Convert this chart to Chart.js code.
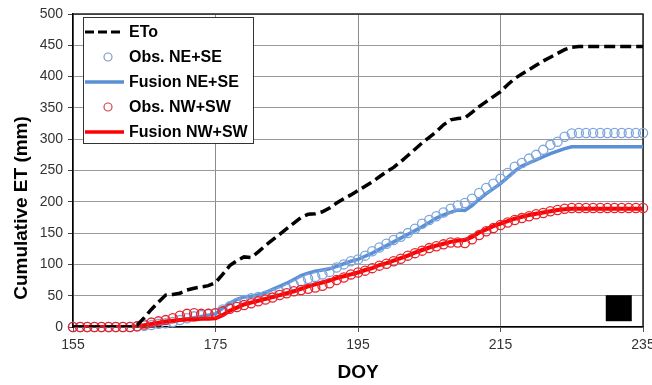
<!DOCTYPE html>
<html>
<head>
<meta charset="utf-8">
<script src="https://cdn.jsdelivr.net/npm/chart.js@4.4.1/dist/chart.umd.min.js"></script>
<style>
  html, body { margin: 0; padding: 0; background: #fff; }
  #wrap { width: 652px; height: 385px; }
</style>
</head>
<body>
<div id="wrap"><canvas id="etChart" width="652" height="385"></canvas></div>
<script>
// day of year, one entry per day
const days = [
  155,156,157,158,159,160,161,162,163,164,
  165,166,167,168,169,170,171,172,173,174,
  175,176,177,178,179,180,181,182,183,184,
  185,186,187,188,189,190,191,192,193,194,
  195,196,197,198,199,200,201,202,203,204,
  205,206,207,208,209,210,211,212,213,214,
  215,216,217,218,219,220,221,222,223,224,
  225,226,227,228,229,230,231,232,233,234,
  235
];

// cumulative reference ET (mm)
const eto = [
  0,0,0,0,0,0,0,0,0,3,
  15,28,40,51,52,54,59,62,64,66,
  71,84,98,106,112,111,120,130,139,148,
  157,166,175,180,181,184,190,198,205,211,
  218,225,232,240,248,255,264,274,284,294,
  303,312,323,331,333,334,343,352,360,368,
  376,387,397,404,411,418,425,431,437,443,
  447,448,448,448,448,448,448,448,448,448,
  448
];

const obsNE = [
  0,0,0,0,0,0,0,0,0,1,
  2,3,5,6,8,11,14,17,19,21,
  22,28,33,38,43,46,48,50,53,56,
  61,67,73,77,80,84,88,95,100,105,
  108,114,121,127,133,139,144,150,157,165,
  171,177,183,189,194,198,205,214,222,229,
  237,246,256,262,269,275,283,291,296,304,
  309,310,310,310,310,310,310,310,310,310,
  310
];

const fusNE = [
  0,0,0,0,0,0,0,0,0,1,
  2,3,5,7,9,11,13,15,17,19,
  21,30,38,44,48,49,51,55,60,65,
  70,76,82,86,89,91,93,97,101,105,
  108,113,118,124,130,136,142,148,154,160,
  167,174,179,183,187,186,194,204,213,221,
  229,239,249,257,262,267,272,277,281,285,
  288,288,288,288,288,288,288,288,288,288,
  288
];

const obsNW = [
  0,0,0,0,0,0,0,0,0,1,
  4,7,9,11,14,18,21,22,21,21,
  22,25,29,32,35,38,41,44,47,51,
  54,57,59,61,63,66,70,75,79,84,
  87,90,94,98,101,105,109,114,118,122,
  126,129,132,135,135,134,140,147,153,158,
  163,167,171,174,177,180,182,185,187,189,
  190,190,190,190,190,190,190,190,190,190,
  190
];

const fusNW = [
  0,0,0,0,0,0,0,0,0,1,
  3,5,7,9,10,11,12,12,13,13,
  14,19,26,31,36,39,42,45,48,51,
  54,57,61,65,68,71,74,78,81,84,
  87,91,94,99,102,106,110,114,119,123,
  127,130,133,136,138,139,144,151,156,161,
  165,169,173,176,179,181,183,185,187,188,
  189,189,189,189,189,189,189,189,189,189,
  189
];

// the filled black box near the lower right corner
const blockMark = [{ x: 231.6, y: 30 }];

const dayTicks = [155, 175, 195, 215, 235];
const etTicks = [0, 50, 100, 150, 200, 250, 300, 350, 400, 450, 500];

const FONT = "'Liberation Sans', Arial, sans-serif";
const pairs = arr => days.map((d, i) => ({ x: d, y: arr[i] }));

// frame on the top and right of the plot
const framePlugin = {
  id: 'frame',
  beforeDatasetsDraw(chart) {
    const { ctx, chartArea: a } = chart;
    ctx.save();
    ctx.strokeStyle = '#222';
    ctx.lineWidth = 1.5;
    ctx.beginPath();
    ctx.moveTo(a.left, a.top);
    ctx.lineTo(a.right, a.top);
    ctx.lineTo(a.right, a.bottom);
    ctx.stroke();
    ctx.restore();
  }
};

// boxed legend in the upper left, plus the rotated y title
const legendPlugin = {
  id: 'boxLegend',
  afterDraw(chart) {
    const { ctx, chartArea: a } = chart;
    const x0 = a.left + 10, y0 = a.top + 3, w = 170, h = 126;
    ctx.save();
    ctx.fillStyle = '#fff';
    ctx.fillRect(x0, y0, w, h);
    ctx.strokeStyle = '#333';
    ctx.lineWidth = 1;
    ctx.strokeRect(x0 + 0.5, y0 + 0.5, w, h);

    const items = chart.data.datasets.filter(ds => ds.label);
    items.forEach((ds, i) => {
      const y = y0 + 15 + i * 25;
      if (ds.showLine === false) {
        ctx.beginPath();
        ctx.arc(x0 + 25, y, 4, 0, Math.PI * 2);
        ctx.strokeStyle = ds.legendColor;
        ctx.lineWidth = 1.2;
        ctx.stroke();
      } else {
        ctx.beginPath();
        ctx.moveTo(x0 + 2, y);
        ctx.lineTo(x0 + 41, y);
        ctx.strokeStyle = ds.borderColor;
        ctx.lineWidth = ds.legendWidth;
        ctx.setLineDash(ds.borderDash ? [9, 4] : []);
        ctx.stroke();
        ctx.setLineDash([]);
      }
      ctx.fillStyle = '#000';
      ctx.font = 'bold 16px ' + FONT;
      ctx.textAlign = 'left';
      ctx.textBaseline = 'middle';
      ctx.fillText(ds.label, x0 + 46, y + 1);
    });

    ctx.translate(22, 208);
    ctx.rotate(-Math.PI / 2);
    ctx.font = 'bold 19px ' + FONT;
    ctx.textAlign = 'center';
    ctx.textBaseline = 'middle';
    ctx.fillStyle = '#000';
    ctx.fillText('Cumulative ET (mm)', 0, 0);
    ctx.restore();
  }
};

new Chart(document.getElementById('etChart').getContext('2d'), {
  type: 'line',
  data: {
    datasets: [
      {
        label: 'ETo', data: pairs(eto), order: 0,
        borderColor: '#000', borderWidth: 3.5, borderDash: [11, 5],
        legendWidth: 3, pointRadius: 0, fill: false, tension: 0
      },
      {
        label: 'Obs. NE+SE', data: pairs(obsNE), order: 3, showLine: false,
        pointStyle: 'circle', pointRadius: 4.6, pointBorderWidth: 1.3,
        pointBorderColor: '#7DA5DC', pointBackgroundColor: 'rgba(255,255,255,0)',
        legendColor: '#7F98C4', clip: false
      },
      {
        label: 'Fusion NE+SE', data: pairs(fusNE), order: 4,
        borderColor: '#5B8FD6', borderWidth: 3.5, legendWidth: 3.5,
        pointRadius: 0, fill: false, tension: 0
      },
      {
        label: 'Obs. NW+SW', data: pairs(obsNW), order: 1, showLine: false,
        pointStyle: 'circle', pointRadius: 4.6, pointBorderWidth: 1.3,
        pointBorderColor: '#E8232B', pointBackgroundColor: 'rgba(255,255,255,0)',
        legendColor: '#D5414B', clip: false
      },
      {
        label: 'Fusion NW+SW', data: pairs(fusNW), order: 2,
        borderColor: '#FF0000', borderWidth: 4, legendWidth: 3.5,
        pointRadius: 0, fill: false, tension: 0
      },
      {
        data: blockMark, order: 5, showLine: false,
        pointStyle: 'rect', pointRadius: 18.4, pointBorderWidth: 0,
        pointBackgroundColor: '#000', pointBorderColor: '#000'
      }
    ]
  },
  options: {
    responsive: false,
    animation: false,
    layout: { autoPadding: false, padding: { left: 0, right: 9, top: 14, bottom: 0 } },
    plugins: {
      legend: { display: false },
      tooltip: { enabled: false }
    },
    scales: {
      x: {
        type: 'linear', min: 155, max: 235,
        afterBuildTicks: s => { s.ticks = dayTicks.map(v => ({ value: v })); },
        afterFit: s => { s.height = 58; s.paddingRight = 9; s.paddingLeft = 0; },
        ticks: { color: '#333', padding: 5, font: { family: FONT, size: 14 } },
        grid: { color: '#8c8c8c', lineWidth: 1, tickLength: 5, tickColor: '#555' },
        border: { color: '#000', width: 1.5 },
        title: {
          display: true, text: 'DOY', color: '#000',
          font: { family: FONT, size: 19, weight: 'bold' },
          padding: { top: 0, bottom: 1 }
        }
      },
      y: {
        min: 0, max: 500,
        afterBuildTicks: s => { s.ticks = etTicks.map(v => ({ value: v })); },
        afterFit: s => { s.width = 73; },
        ticks: { color: '#333', padding: 5, font: { family: FONT, size: 14 } },
        grid: {
          color: '#9a9a9a', lineWidth: 1, tickLength: 5, tickColor: '#444',
          borderDash: [3, 2], tickBorderDash: []
        },
        border: { color: '#000', width: 1.5 }
      }
    }
  },
  plugins: [framePlugin, legendPlugin]
});
</script>
</body>
</html>
